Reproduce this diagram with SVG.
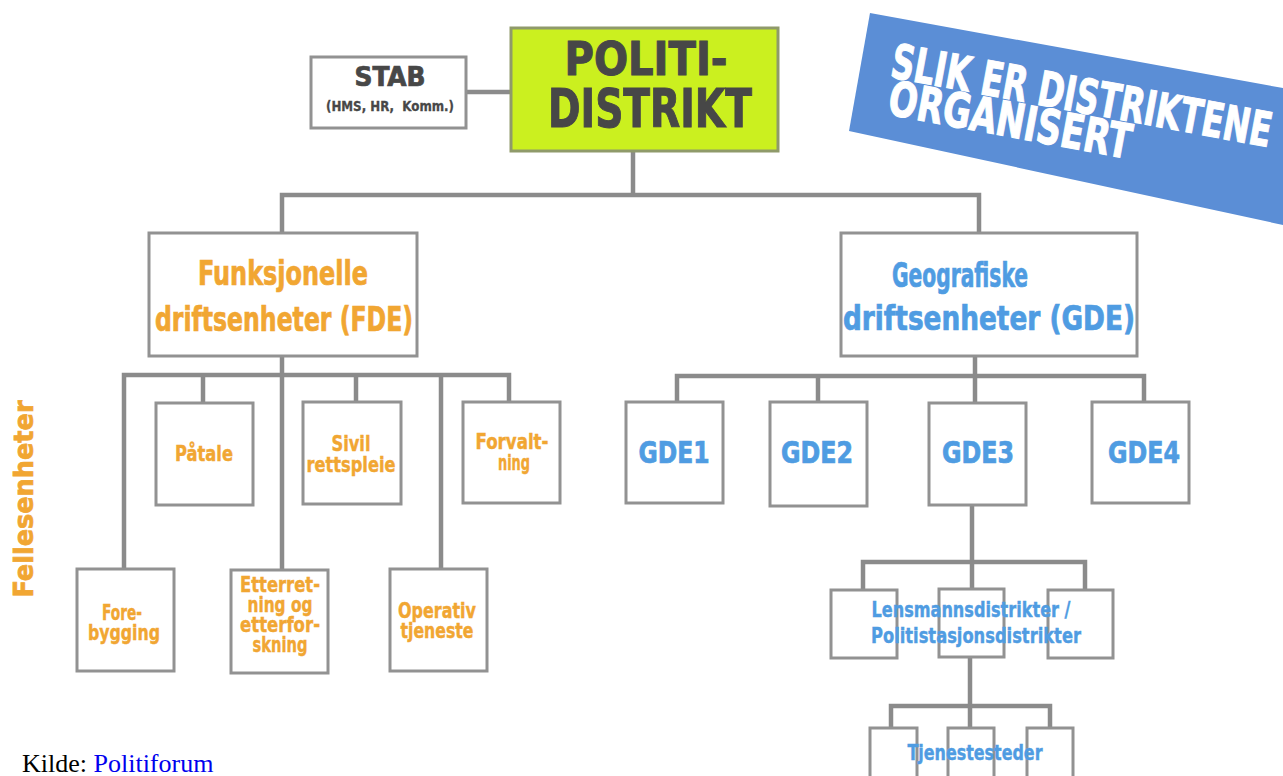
<svg xmlns="http://www.w3.org/2000/svg" width="1283" height="776" viewBox="0 0 1283 776">
  <style>
    .box{fill:#fff;stroke:#929292;stroke-width:3}
    .wire{fill:none;stroke:#8b8b8b;stroke-width:4.5;stroke-linejoin:miter}
    .t{font-family:"DejaVu Sans Condensed","DejaVu Sans",sans-serif;font-weight:bold;text-anchor:middle;stroke-width:0.7}
    .or{fill:#f1a632;stroke:#f1a632}
    .bl{fill:#4f9ce2;stroke:#4f9ce2}
    .dk{fill:#474747;stroke:#474747}
    .wt{fill:#ffffff;stroke:#ffffff;stroke-width:1}
    .s{font-size:21px;stroke-width:0.4}
  </style>
  <rect width="1283" height="776" fill="#ffffff"/>

  <!-- heading banner -->
  <g id="banner">
    <polygon points="870,13 1283,88 1283,225 849,131" fill="#5b8ed6"/>
    <g transform="translate(889,77) rotate(10.5)">
      <text class="t wt" x="0" y="0" font-size="48" textLength="386" lengthAdjust="spacingAndGlyphs" style="text-anchor:start">SLIK ER DISTRIKTENE</text>
      <text class="t wt" x="4" y="37" font-size="48" textLength="246" lengthAdjust="spacingAndGlyphs" style="text-anchor:start">ORGANISERT</text>
    </g>
  </g>

  <!-- connectors -->
  <g id="connectors" class="wire">
    <path d="M466 92 H511"/>
    <path d="M633 151 V195 M282 233 V195 H979 V233"/>
    <path d="M282 356 V571"/>
    <path d="M124 569 V375 H509 V402"/>
    <path d="M203 375 V403 M356 375 V402 M441 375 V569"/>
    <path d="M975 356 V376"/>
    <path d="M677 402 V376 H1144 V402 M818 376 V402 M975 376 V403"/>
    <path d="M972 505 V562 M863 590 V562 H1085 V590 M972 562 V589"/>
    <path d="M970 657 V706 M891 728 V706 H1050 V728 M970 706 V728"/>
  </g>

  <g id="stab">
    <rect class="box" x="311" y="57" width="155" height="71"/>
    <text class="t dk" x="390" y="86" font-size="26" textLength="71" lengthAdjust="spacingAndGlyphs">STAB</text>
    <text class="t dk" x="390" y="111" font-size="14" textLength="128" lengthAdjust="spacingAndGlyphs" style="stroke-width:0.3">(HMS, HR,&#160; Komm.)</text>
  </g>

  <g id="politidistrikt">
    <rect x="511" y="28" width="267" height="123" fill="#cbf01f" stroke="#8f9a6a" stroke-width="3"/>
    <text class="t dk" x="646" y="75" font-size="46" textLength="163" lengthAdjust="spacingAndGlyphs" style="stroke-width:1">POLITI-</text>
    <text class="t dk" x="650" y="127" font-size="53" textLength="204" lengthAdjust="spacingAndGlyphs" style="stroke-width:1">DISTRIKT</text>
  </g>

  <g id="fde">
    <rect class="box" x="149" y="233" width="268" height="123"/>
    <text class="t or" x="283" y="285" font-size="33" textLength="170" lengthAdjust="spacingAndGlyphs">Funksjonelle</text>
    <text class="t or" x="284" y="331" font-size="33" textLength="258" lengthAdjust="spacingAndGlyphs">driftsenheter (FDE)</text>
  </g>

  <g id="gde">
    <rect class="box" x="841" y="233" width="296" height="123"/>
    <text class="t bl" x="960" y="287" font-size="33" textLength="136" lengthAdjust="spacingAndGlyphs">Geografiske</text>
    <text class="t bl" x="989" y="330" font-size="33" textLength="292" lengthAdjust="spacingAndGlyphs">driftsenheter (GDE)</text>
  </g>

  <g id="fellesenheter">
    <text class="t or" transform="translate(33,499) rotate(-90)" x="0" y="0" font-size="27" textLength="197" lengthAdjust="spacingAndGlyphs">Fellesenheter</text>
  </g>

  <g id="patale">
    <rect class="box" x="156" y="403" width="97" height="102"/>
    <text class="t or s" x="204" y="461" textLength="58" lengthAdjust="spacingAndGlyphs">Påtale</text>
  </g>
  <g id="sivil">
    <rect class="box" x="303" y="402" width="98" height="102"/>
    <text class="t or s" x="351" y="451" textLength="39" lengthAdjust="spacingAndGlyphs">Sivil</text>
    <text class="t or s" x="351" y="472" textLength="89" lengthAdjust="spacingAndGlyphs">rettspleie</text>
  </g>
  <g id="forvaltning">
    <rect class="box" x="463" y="402" width="97" height="101"/>
    <text class="t or s" x="512" y="449" textLength="73" lengthAdjust="spacingAndGlyphs">Forvalt-</text>
    <text class="t or s" x="514" y="470" textLength="32" lengthAdjust="spacingAndGlyphs">ning</text>
  </g>
  <g id="forebygging">
    <rect class="box" x="77" y="569" width="97" height="102"/>
    <text class="t or s" x="122" y="620" textLength="40" lengthAdjust="spacingAndGlyphs">Fore-</text>
    <text class="t or s" x="124" y="640" textLength="72" lengthAdjust="spacingAndGlyphs">bygging</text>
  </g>
  <g id="etterretning">
    <rect class="box" x="231" y="570" width="97" height="103"/>
    <text class="t or s" x="280" y="592" textLength="80" lengthAdjust="spacingAndGlyphs">Etterret-</text>
    <text class="t or s" x="280" y="612" textLength="65" lengthAdjust="spacingAndGlyphs">ning og</text>
    <text class="t or s" x="280" y="632" textLength="80" lengthAdjust="spacingAndGlyphs">etterfor-</text>
    <text class="t or s" x="280" y="652" textLength="55" lengthAdjust="spacingAndGlyphs">skning</text>
  </g>
  <g id="operativ">
    <rect class="box" x="390" y="569" width="97" height="102"/>
    <text class="t or s" x="437" y="618" textLength="78" lengthAdjust="spacingAndGlyphs">Operativ</text>
    <text class="t or s" x="437" y="638" textLength="73" lengthAdjust="spacingAndGlyphs">tjeneste</text>
  </g>

  <g id="gde1">
    <rect class="box" x="626" y="402" width="97" height="101"/>
    <text class="t bl" x="674" y="463" font-size="30" textLength="71" lengthAdjust="spacingAndGlyphs">GDE1</text>
  </g>
  <g id="gde2">
    <rect class="box" x="770" y="402" width="97" height="104"/>
    <text class="t bl" x="817" y="463" font-size="30" textLength="72" lengthAdjust="spacingAndGlyphs">GDE2</text>
  </g>
  <g id="gde3">
    <rect class="box" x="929" y="403" width="97" height="102"/>
    <text class="t bl" x="978" y="463" font-size="30" textLength="72" lengthAdjust="spacingAndGlyphs">GDE3</text>
  </g>
  <g id="gde4">
    <rect class="box" x="1092" y="402" width="97" height="101"/>
    <text class="t bl" x="1144" y="463" font-size="30" textLength="72" lengthAdjust="spacingAndGlyphs">GDE4</text>
  </g>

  <g id="lensmannsdistrikter">
    <rect class="box" x="831" y="590" width="66" height="68"/>
    <rect class="box" x="939" y="589" width="65" height="68"/>
    <rect class="box" x="1048" y="590" width="65" height="68"/>
    <text class="t bl" x="971" y="617" font-size="22" textLength="199" lengthAdjust="spacingAndGlyphs" style="stroke-width:0.4">Lensmannsdistrikter /</text>
    <text class="t bl" x="976" y="643" font-size="22" textLength="210" lengthAdjust="spacingAndGlyphs" style="stroke-width:0.4">Politistasjonsdistrikter</text>
  </g>

  <g id="tjenestesteder">
    <rect class="box" x="870" y="728" width="47" height="60"/>
    <rect class="box" x="948" y="728" width="46" height="60"/>
    <rect class="box" x="1027" y="728" width="46" height="60"/>
    <text class="t bl" x="975" y="760" font-size="22" textLength="135" lengthAdjust="spacingAndGlyphs" style="stroke-width:0.4">Tjenestesteder</text>
  </g>

  <g id="source">
    <text x="22" y="772" font-family="'Liberation Serif','Times New Roman',serif" font-size="26" fill="#000">Kilde: <tspan fill="#0000ee">Politiforum</tspan></text>
  </g>
</svg>
